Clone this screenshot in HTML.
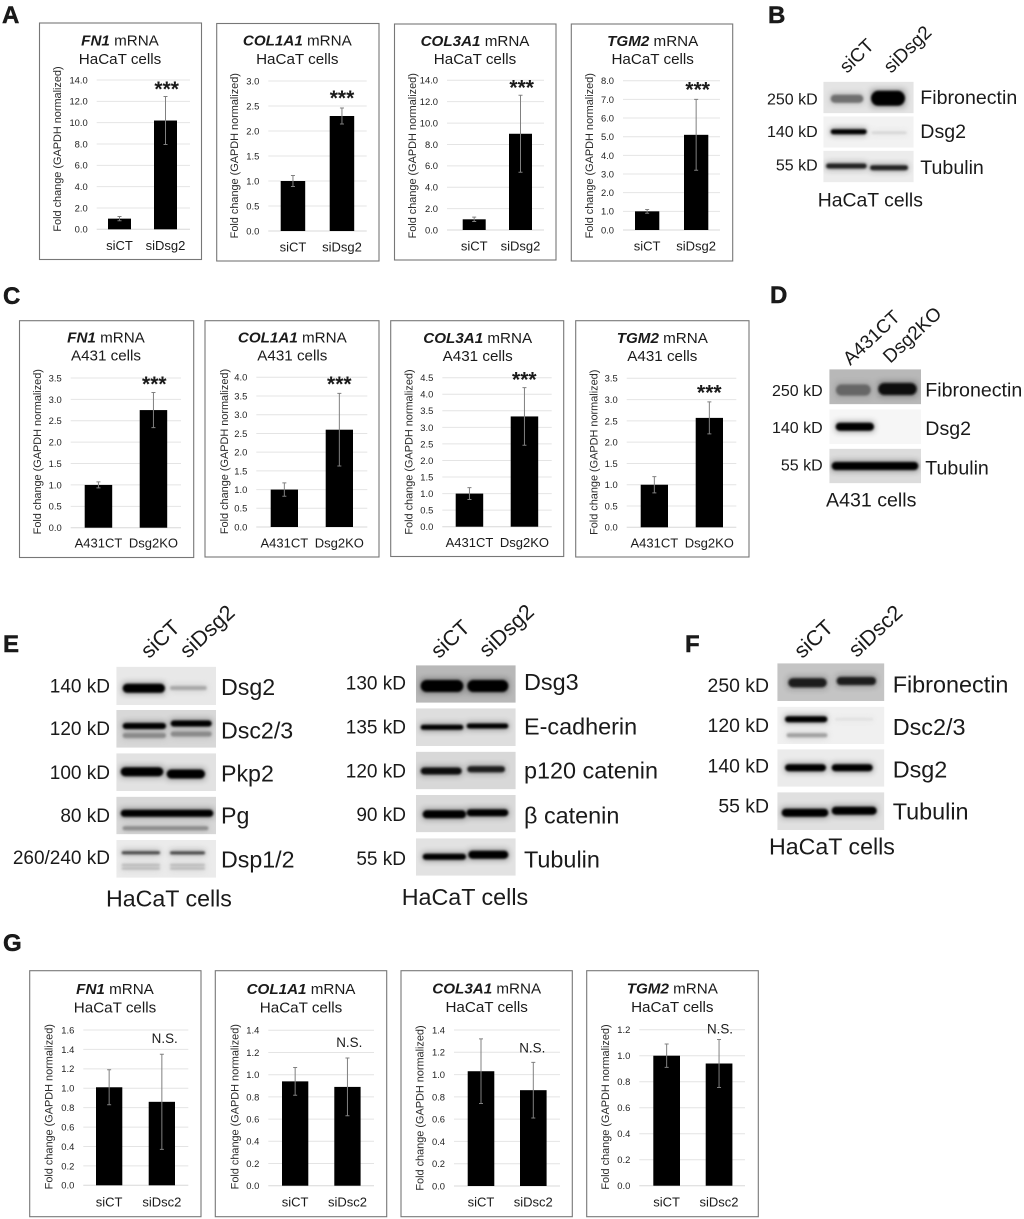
<!DOCTYPE html>
<html lang="en">
<head>
<meta charset="utf-8">
<title>Fibronectin and desmosomal protein expression figure</title>
<style>
html,body{margin:0;padding:0;background:#fff;}
#figure{display:block;width:1024px;height:1219px;font-family:"Liberation Sans",Arial,sans-serif;}
#figure text{fill:#1a1a1a;}
</style>
</head>
<body>
<svg id="figure" xmlns="http://www.w3.org/2000/svg" width="1024" height="1219" viewBox="0 0 1024 1219">
  <defs>
    <filter id="soft" filterUnits="userSpaceOnUse" x="0" y="0" width="1024" height="1219"><feGaussianBlur stdDeviation="1.1"/></filter>
    <filter id="haze" filterUnits="userSpaceOnUse" x="0" y="0" width="1024" height="1219"><feGaussianBlur stdDeviation="3.2"/></filter>
  </defs>
  <rect width="1024" height="1219" fill="#fff"/>
  <g font-size="24" font-weight="700" stroke="#111" stroke-width="0.45">
    <text x="2" y="23">A</text>
    <text x="768" y="23">B</text>
    <text x="3" y="304">C</text>
    <text x="770" y="303">D</text>
    <text x="3" y="652">E</text>
    <text x="685" y="652">F</text>
    <text x="3" y="951">G</text>
  </g>
  <g id="charts"></g>
  <g id="blots"></g>
</svg>
<script>
/* ---------- chart data ---------- */
const categoriesHacatDsg2 = ['siCT', 'siDsg2'];
const categoriesA431 = ['A431CT', 'Dsg2KO'];
const categoriesHacatDsc2 = ['siCT', 'siDsc2'];

const ticksA1 = [0, 2, 4, 6, 8, 10, 12, 14];
const valuesA1 = [1.0, 10.2];
const errorsA1 = [0.2, 2.25];
const ticksA2 = [0, 0.5, 1, 1.5, 2, 2.5, 3];
const valuesA2 = [1.0, 2.3];
const errorsA2 = [0.11, 0.16];
const ticksA3 = [0, 2, 4, 6, 8, 10, 12, 14];
const valuesA3 = [1.0, 9.0];
const errorsA3 = [0.2, 3.6];
const ticksA4 = [0, 1, 2, 3, 4, 5, 6, 7, 8];
const valuesA4 = [1.0, 5.1];
const errorsA4 = [0.1, 1.9];

const ticksC1 = [0, 0.5, 1, 1.5, 2, 2.5, 3, 3.5];
const valuesC1 = [1.0, 2.75];
const errorsC1 = [0.07, 0.41];
const ticksC2 = [0, 0.5, 1, 1.5, 2, 2.5, 3, 3.5, 4];
const valuesC2 = [1.0, 2.6];
const errorsC2 = [0.18, 0.97];
const ticksC3 = [0, 0.5, 1, 1.5, 2, 2.5, 3, 3.5, 4, 4.5];
const valuesC3 = [1.0, 3.33];
const errorsC3 = [0.18, 0.87];
const ticksC4 = [0, 0.5, 1, 1.5, 2, 2.5, 3, 3.5];
const valuesC4 = [1.0, 2.57];
const errorsC4 = [0.19, 0.375];

const ticksG1 = [0, 0.2, 0.4, 0.6, 0.8, 1, 1.2, 1.4, 1.6];
const valuesG1 = [1.01, 0.86];
const errorsG1 = [0.18, 0.49];
const ticksG2 = [0, 0.2, 0.4, 0.6, 0.8, 1, 1.2, 1.4];
const valuesG2 = [0.94, 0.89];
const errorsG2 = [0.125, 0.26];
const ticksG3 = [0, 0.2, 0.4, 0.6, 0.8, 1, 1.2, 1.4];
const valuesG3 = [1.03, 0.86];
const errorsG3 = [0.29, 0.25];
const ticksG4 = [0, 0.2, 0.4, 0.6, 0.8, 1, 1.2];
const valuesG4 = [1.0, 0.94];
const errorsG4 = [0.09, 0.185];

/* ---------- chart layout (geometry only) ---------- */
const chartList = [
  {key:'a-fn1',gene:'FN1',cell:'HaCaT cells',cats:categoriesHacatDsg2,vals:valuesA1,errs:errorsA1,ticks:ticksA1,mark:'***',
   box:[39.5,23,201.5,259.5],grid:[96.7,190,80,229.3],bar:[108,23,46],title:[120,45.5,64],axis:[57.3,149],labelY:250,markAt:[166.7,87]},
  {key:'a-col1a1',gene:'COL1A1',cell:'HaCaT cells',cats:categoriesHacatDsg2,vals:valuesA2,errs:errorsA2,ticks:ticksA2,mark:'***',
   box:[216.7,23.5,379,261],grid:[268.3,366.7,81,231],bar:[280.7,24.5,49],title:[297.3,45.7,64],axis:[234.3,155.7],labelY:251.7,markAt:[342,96]},
  {key:'a-col3a1',gene:'COL3A1',cell:'HaCaT cells',cats:categoriesHacatDsg2,vals:valuesA3,errs:errorsA3,ticks:ticksA3,mark:'***',
   box:[394.5,24,556,260],grid:[447,544,80.3,230],bar:[462.7,23,46.3],title:[475,46,64],axis:[412.3,155.8],labelY:250.5,markAt:[521.7,85.7]},
  {key:'a-tgm2',gene:'TGM2',cell:'HaCaT cells',cats:categoriesHacatDsg2,vals:valuesA4,errs:errorsA4,ticks:ticksA4,mark:'***',
   box:[571.3,24,732.7,261],grid:[623,720,80.7,230],bar:[635,24.3,49],title:[652.7,46,64],axis:[589.7,155.8],labelY:250.5,markAt:[697.7,87.7]},

  {key:'c-fn1',gene:'FN1',cell:'A431 cells',cats:categoriesA431,vals:valuesC1,errs:errorsC1,ticks:ticksC1,mark:'***',
   box:[19.5,320.7,193.7,557.5],grid:[70.7,181,378,527.7],bar:[84.7,27.5,55],title:[106,342.7,360.7],axis:[37.3,451.7],labelY:547.5,markAt:[154.3,382]},
  {key:'c-col1a1',gene:'COL1A1',cell:'A431 cells',cats:categoriesA431,vals:valuesC2,errs:errorsC2,ticks:ticksC2,mark:'***',
   box:[205,320.7,379,557],grid:[256.3,367.3,377.3,527],bar:[270.7,27.3,55],title:[292.3,342.7,360.7],axis:[224.3,451.5],labelY:547.5,markAt:[339.3,382]},
  {key:'c-col3a1',gene:'COL3A1',cell:'A431 cells',cats:categoriesA431,vals:valuesC3,errs:errorsC3,ticks:ticksC3,mark:'***',
   box:[390.7,320.7,563.7,556.5],grid:[442.3,551.7,377.7,526.7],bar:[455.7,27.5,55],title:[477.7,343,361],axis:[409,452],labelY:547,markAt:[524.3,377.7]},
  {key:'c-tgm2',gene:'TGM2',cell:'A431 cells',cats:categoriesA431,vals:valuesC4,errs:errorsC4,ticks:ticksC4,mark:'***',
   box:[575.7,320.7,749,557],grid:[626.7,736.3,378.3,527.3],bar:[640.7,27.3,55],title:[662.3,343,361],axis:[594,452.3],labelY:547.5,markAt:[709.3,390.7]},

  {key:'g-fn1',gene:'FN1',cell:'HaCaT cells',cats:categoriesHacatDsc2,vals:valuesG1,errs:errorsG1,ticks:ticksG1,mark:'N.S.',
   box:[29.7,970.7,201,1216.7],grid:[83.3,188.3,1030,1185.3],bar:[96,26.3,52.7],title:[115,994,1012.7],axis:[49,1106.7],labelY:1206.7,markAt:[164.7,1038]},
  {key:'g-col1a1',gene:'COL1A1',cell:'HaCaT cells',cats:categoriesHacatDsc2,vals:valuesG2,errs:errorsG2,ticks:ticksG2,mark:'N.S.',
   box:[215.3,970.7,386.7,1216.7],grid:[268.3,374,1030.3,1185.7],bar:[282,26.3,52.3],title:[301,994,1012.7],axis:[235,1106.7],labelY:1206.7,markAt:[349.3,1042]},
  {key:'g-col3a1',gene:'COL3A1',cell:'HaCaT cells',cats:categoriesHacatDsc2,vals:valuesG3,errs:errorsG3,ticks:ticksG3,mark:'N.S.',
   box:[401,970.7,572.3,1216.7],grid:[454,560,1030,1186],bar:[467.7,26.6,52.3],title:[486.7,993.3,1012],axis:[420,1108],labelY:1206.7,markAt:[532.3,1047.7]},
  {key:'g-tgm2',gene:'TGM2',cell:'HaCaT cells',cats:categoriesHacatDsc2,vals:valuesG4,errs:errorsG4,ticks:ticksG4,mark:'N.S.',
   box:[586.7,970.7,758.3,1216.7],grid:[639.3,745,1029.7,1185.7],bar:[653.3,26.7,52.4],title:[672.3,993.3,1012],axis:[605.7,1107],labelY:1206.7,markAt:[720,1028.7]}
];

const NS = 'http://www.w3.org/2000/svg';
function make(tag, parent, attrs, text) {
  const node = document.createElementNS(NS, tag);
  for (const k in attrs) node.setAttribute(k, attrs[k]);
  if (text !== undefined) node.textContent = text;
  parent.appendChild(node);
  return node;
}

function drawChart(chart, root) {
  const [gridL, gridR, yTop, y0] = chart.grid;
  const [barLeft, barWidth, barStep] = chart.bar;
  const yMax = Math.max.apply(null, chart.ticks);
  const yScale = v => y0 - (v / yMax) * (y0 - yTop);
  const xBand = i => barLeft + i * barStep;

  const group = make('g', root, {});
  
  

  const frame = make('rect', group, {x: chart.box[0], y: chart.box[1], width: chart.box[2] - chart.box[0], height: chart.box[3] - chart.box[1], fill: '#fff', stroke: '#777', 'stroke-width': 1.1});
  
  

  const title = make('text', group, {x: chart.title[0], y: chart.title[1], 'text-anchor': 'middle', 'font-size': 15.2});
  
  
  make('tspan', title, {'font-weight': 700, 'font-style': 'italic'}, chart.gene);
  make('tspan', title, {}, ' mRNA');

  const subtitle = make('text', group, {x: chart.title[0], y: chart.title[2], 'text-anchor': 'middle', 'font-size': 15.2}, chart.cell);
  
  

  const axisTitle = make('text', group, {transform: 'translate(' + (chart.axis[0] + 3.5) + ',' + chart.axis[1] + ') rotate(-90)', 'text-anchor': 'middle', 'font-size': 10.9, style: 'fill:#2a2a2a'}, 'Fold change (GAPDH normalized)');
  
  

  chart.ticks.forEach(t => {
    const gridLine = make('line', group, {x1: gridL, x2: gridR, y1: yScale(t), y2: yScale(t), stroke: t === 0 ? '#d8d8d8' : '#e4e4e4', 'stroke-width': 1});
    
    
    const tickLabel = make('text', group, {x: gridL - 9, y: yScale(t) + 3.4, 'text-anchor': 'end', 'font-size': 9.4, style: 'fill:#222'}, t.toFixed(1));
    
    
  });

  chart.vals.forEach((v, i) => {
    const cx = xBand(i) + barWidth / 2;
    const bar = make('rect', group, {x: xBand(i), y: yScale(v), width: barWidth, height: y0 - yScale(v), fill: '#000'});
    
    

    const top = yScale(v + chart.errs[i]);
    const bottom = yScale(v - chart.errs[i]);
    const errorBar = make('path', group, {d: 'M' + (cx - 2) + ' ' + top + 'H' + (cx + 2) + 'M' + cx + ' ' + top + 'V' + bottom + 'M' + (cx - 2) + ' ' + bottom + 'H' + (cx + 2), stroke: '#808080', 'stroke-width': 1, fill: 'none'});
    
    

    const catLabel = make('text', group, {x: cx, y: chart.labelY, 'text-anchor': 'middle', 'font-size': 13}, chart.cats[i]);
    
    
  });

  const stars = chart.mark === '***';
  const mark = make('text', group, {x: chart.markAt[0], y: chart.markAt[1] + (stars ? 9 : 5), 'text-anchor': 'middle', 'font-size': stars ? 21 : 13.4, 'font-weight': stars ? 700 : 400}, chart.mark);
  
  
}

const chartRoot = document.getElementById('charts');
chartList.forEach(c => drawChart(c, chartRoot));

/* ---------- western blot panels ---------- */
const blotPanels = [
  {key:'b',kdSize:16,labelSize:19.6,laneSize:19,laneAngle:-44,cols:[823.3,913.7],kdX:817.7,labelX:920.3,
   lanes:[['siCT',847,74],['siDsg2',891,74]],caption:['HaCaT cells',817.7,206.7,19.4],
   rows:[
    {label:'Fibronectin',kd:'250 kD',top:81.7,bottom:113.3,bg:'#e4e4e4',kdY:98.7,labelY:104,bands:[[830.7,863.3,98.7,8,'#6f6f6f'],[871,905,98.3,15,'#000']]},
    {label:'Dsg2',kd:'140 kD',top:116.3,bottom:147.7,bg:'#f2f2f2',kdY:131,labelY:138,bands:[[830.7,866.7,131.7,5,'#000'],[871.7,906.7,132.7,2,'#d0d0d0']]},
    {label:'Tubulin',kd:'55 kD',top:150.7,bottom:182.3,bg:'#ececec',kdY:164.7,labelY:174,bands:[[826,866.7,166,5,'#222'],[870,908,167.7,5,'#222']]}
   ]},
  {key:'d',kdSize:16,labelSize:19.6,laneSize:19,laneAngle:-43,cols:[829.3,921],kdX:822.7,labelX:925.3,
   lanes:[['A431CT',850.3,366],['Dsg2KO',890.3,364]],caption:['A431 cells',826,506.7,19.6],
   rows:[
    {label:'Fibronectin',kd:'250 kD',top:369.3,bottom:404.3,bg:'#b8b8b8',kdY:390,labelY:396.7,bands:[[836,870.7,390,11,'#666'],[878.3,916.7,389,12,'#0c0c0c']]},
    {label:'Dsg2',kd:'140 kD',top:409.3,bottom:444,bg:'#f6f6f6',kdY:427.3,labelY:435,bands:[[835.7,874,426.7,8,'#000']]},
    {label:'Tubulin',kd:'55 kD',top:448.7,bottom:483.3,bg:'#dcdcdc',kdY:464.7,labelY:474.3,bands:[[831.7,918.3,466,8,'#000']]}
   ]},
  {key:'e-left',kdSize:19,labelSize:23.2,laneSize:21.5,laneAngle:-43,cols:[116.3,216],kdX:110,labelX:221,
   lanes:[['siCT',149,659.3],['siDsg2',188,659]],caption:['HaCaT cells',106,906.7,23.2],
   rows:[
    {label:'Dsg2',kd:'140 kD',top:666.7,bottom:705,bg:'#e8e8e8',kdY:685.7,labelY:695,bands:[[122.7,165,688.3,9,'#000'],[170,206.7,688,4,'#a8a8a8']]},
    {label:'Dsc2/3',kd:'120 kD',top:710,bottom:747.7,bg:'#d8d8d8',kdY:728.3,labelY:738.3,bands:[[122.7,166,726,6,'#000'],[170.7,211.7,723.5,6,'#000'],[122.7,166,735.5,5,'#8a8a8a'],[170.7,211.7,734,5,'#8a8a8a']]},
    {label:'Pkp2',kd:'100 kD',top:753.3,bottom:791,bg:'#e2e2e2',kdY:772,labelY:781.7,bands:[[120.7,163.3,771.7,9,'#000'],[166.7,205,774,9,'#000']]},
    {label:'Pg',kd:'80 kD',top:796.7,bottom:834.3,bg:'#d8d8d8',kdY:815.3,labelY:823.3,bands:[[120.7,213.3,813.3,7,'#000'],[122.7,208.3,828.3,4,'#8c8c8c']]},
    {label:'Dsp1/2',kd:'260/240 kD',top:840,bottom:877.7,bg:'#ebebeb',kdY:857.3,labelY:867.3,bands:[[121.7,160,852.7,3,'#444'],[170,205,852.9,3,'#444'],[121.7,160,865,2,'#b4b4b4'],[170,205,865,2,'#b4b4b4'],[121.7,160,868.5,2,'#b4b4b4'],[170,205,868.5,2,'#b4b4b4']]}
   ]},
  {key:'e-right',kdSize:19,labelSize:23.4,laneSize:21.5,laneAngle:-43,cols:[416,515.7],kdX:406,labelX:524,
   lanes:[['siCT',439,659.3],['siDsg2',487.3,658.3]],caption:['HaCaT cells',401.7,905,23.3],
   rows:[
    {label:'Dsg3',kd:'130 kD',top:665.3,bottom:702.7,bg:'#b8b8b8',kdY:682.7,labelY:690,bands:[[420.7,463.3,686,12,'#000'],[467.3,508.3,686,12,'#000']]},
    {label:'E-cadherin',kd:'135 kD',top:708.3,bottom:746,bg:'#dedede',kdY:726.7,labelY:734.3,bands:[[420.7,463.3,727.3,5,'#000'],[466.7,508.3,726,5,'#000']]},
    {label:'p120 catenin',kd:'120 kD',top:751.7,bottom:789.3,bg:'#d8d8d8',kdY:770.7,labelY:778.3,bands:[[420.7,461.7,771,7,'#0c0c0c'],[467.3,505,769.3,6,'#1c1c1c']]},
    {label:'β catenin',kd:'90 kD',top:795,bottom:832.3,bg:'#dadada',kdY:814,labelY:823.3,bands:[[422.7,466,814.3,8,'#000'],[466.7,508.3,812.7,7,'#000']]},
    {label:'Tubulin',kd:'55 kD',top:838.3,bottom:875.7,bg:'#e2e2e2',kdY:858.3,labelY:867.7,bands:[[422.7,466,856.7,6,'#000'],[468.3,508.3,854.7,8,'#000']]}
   ]},
  {key:'f',kdSize:19.4,labelSize:23.4,laneSize:21.5,laneAngle:-43,cols:[777.3,884.3],kdX:769,labelX:892.7,
   lanes:[['siCT',802.3,659.3],['siDsc2',856.7,658.3]],caption:['HaCaT cells',769,854.3,23.2],
   rows:[
    {label:'Fibronectin',kd:'250 kD',top:663.3,bottom:701,bg:'#c4c4c4',kdY:685,labelY:692.7,bands:[[788.3,826.7,682.7,9,'#1c1c1c'],[836.7,876,681,8,'#1c1c1c']]},
    {label:'Dsc2/3',kd:'120 kD',top:706.7,bottom:744,bg:'#f0f0f0',kdY:725,labelY:735,bands:[[785,827.3,719.3,6,'#000'],[786.7,827.3,735.3,4,'#a0a0a0'],[835,873.3,719.3,2,'#dedede']]},
    {label:'Dsg2',kd:'140 kD',top:749.3,bottom:786.7,bg:'#ebebeb',kdY:765.7,labelY:777.7,bands:[[785,826,767.7,7,'#000'],[831.7,872.7,767.7,7,'#000']]},
    {label:'Tubulin',kd:'55 kD',top:792.3,bottom:830,bg:'#e0e0e0',kdY:805.7,labelY:819.3,bands:[[781.7,828.3,812.7,8,'#000'],[831.7,876.7,810.7,8,'#000']]}
   ]}
];

function drawBlot(panel, root) {
  const group = make('g', root, {});
  
  

  panel.lanes.forEach(l => {
    const lane = make('text', group, {transform: 'translate(' + l[1] + ',' + l[2] + ') rotate(' + panel.laneAngle + ')', 'font-size': panel.laneSize}, l[0]);
    
    
  });

  panel.rows.forEach(row => {
    const x = panel.cols[0];
    const w = panel.cols[1] - panel.cols[0];
    const h = row.bottom - row.top;
    const clip = make('svg', group, {x: x, y: row.top, width: w, height: h, viewBox: x + ' ' + row.top + ' ' + w + ' ' + h});
    
    
    const bgRect = make('rect', clip, {x: x, y: row.top, width: w, height: h, fill: row.bg});
    
    
    const hazeGroup = make('g', clip, {filter: 'url(#haze)', opacity: 0.38});
    const bandGroup = make('g', clip, {filter: 'url(#soft)'});
    row.bands.forEach(b => {
      const halo = make('rect', hazeGroup, {x: b[0], y: b[2] - b[3] / 2 - 1, width: b[1] - b[0], height: b[3] + 2, fill: b[4]});
      
      
      const band = make('rect', bandGroup, {x: b[0], y: b[2] - b[3] / 2, width: b[1] - b[0], height: b[3], rx: b[3] / 2, fill: b[4]});
      
      
    });

    const kd = make('text', group, {x: panel.kdX, y: row.kdY + panel.kdSize * 0.36, 'text-anchor': 'end', 'font-size': panel.kdSize}, row.kd);
    
    
    const name = make('text', group, {x: panel.labelX, y: row.labelY, 'font-size': panel.labelSize}, row.label);
    
    
  });

  const cap = make('text', group, {x: panel.caption[1], y: panel.caption[2], 'font-size': panel.caption[3]}, panel.caption[0]);
  
  
}

const blotRoot = document.getElementById('blots');
blotPanels.forEach(p => drawBlot(p, blotRoot));
</script>
</body>
</html>
